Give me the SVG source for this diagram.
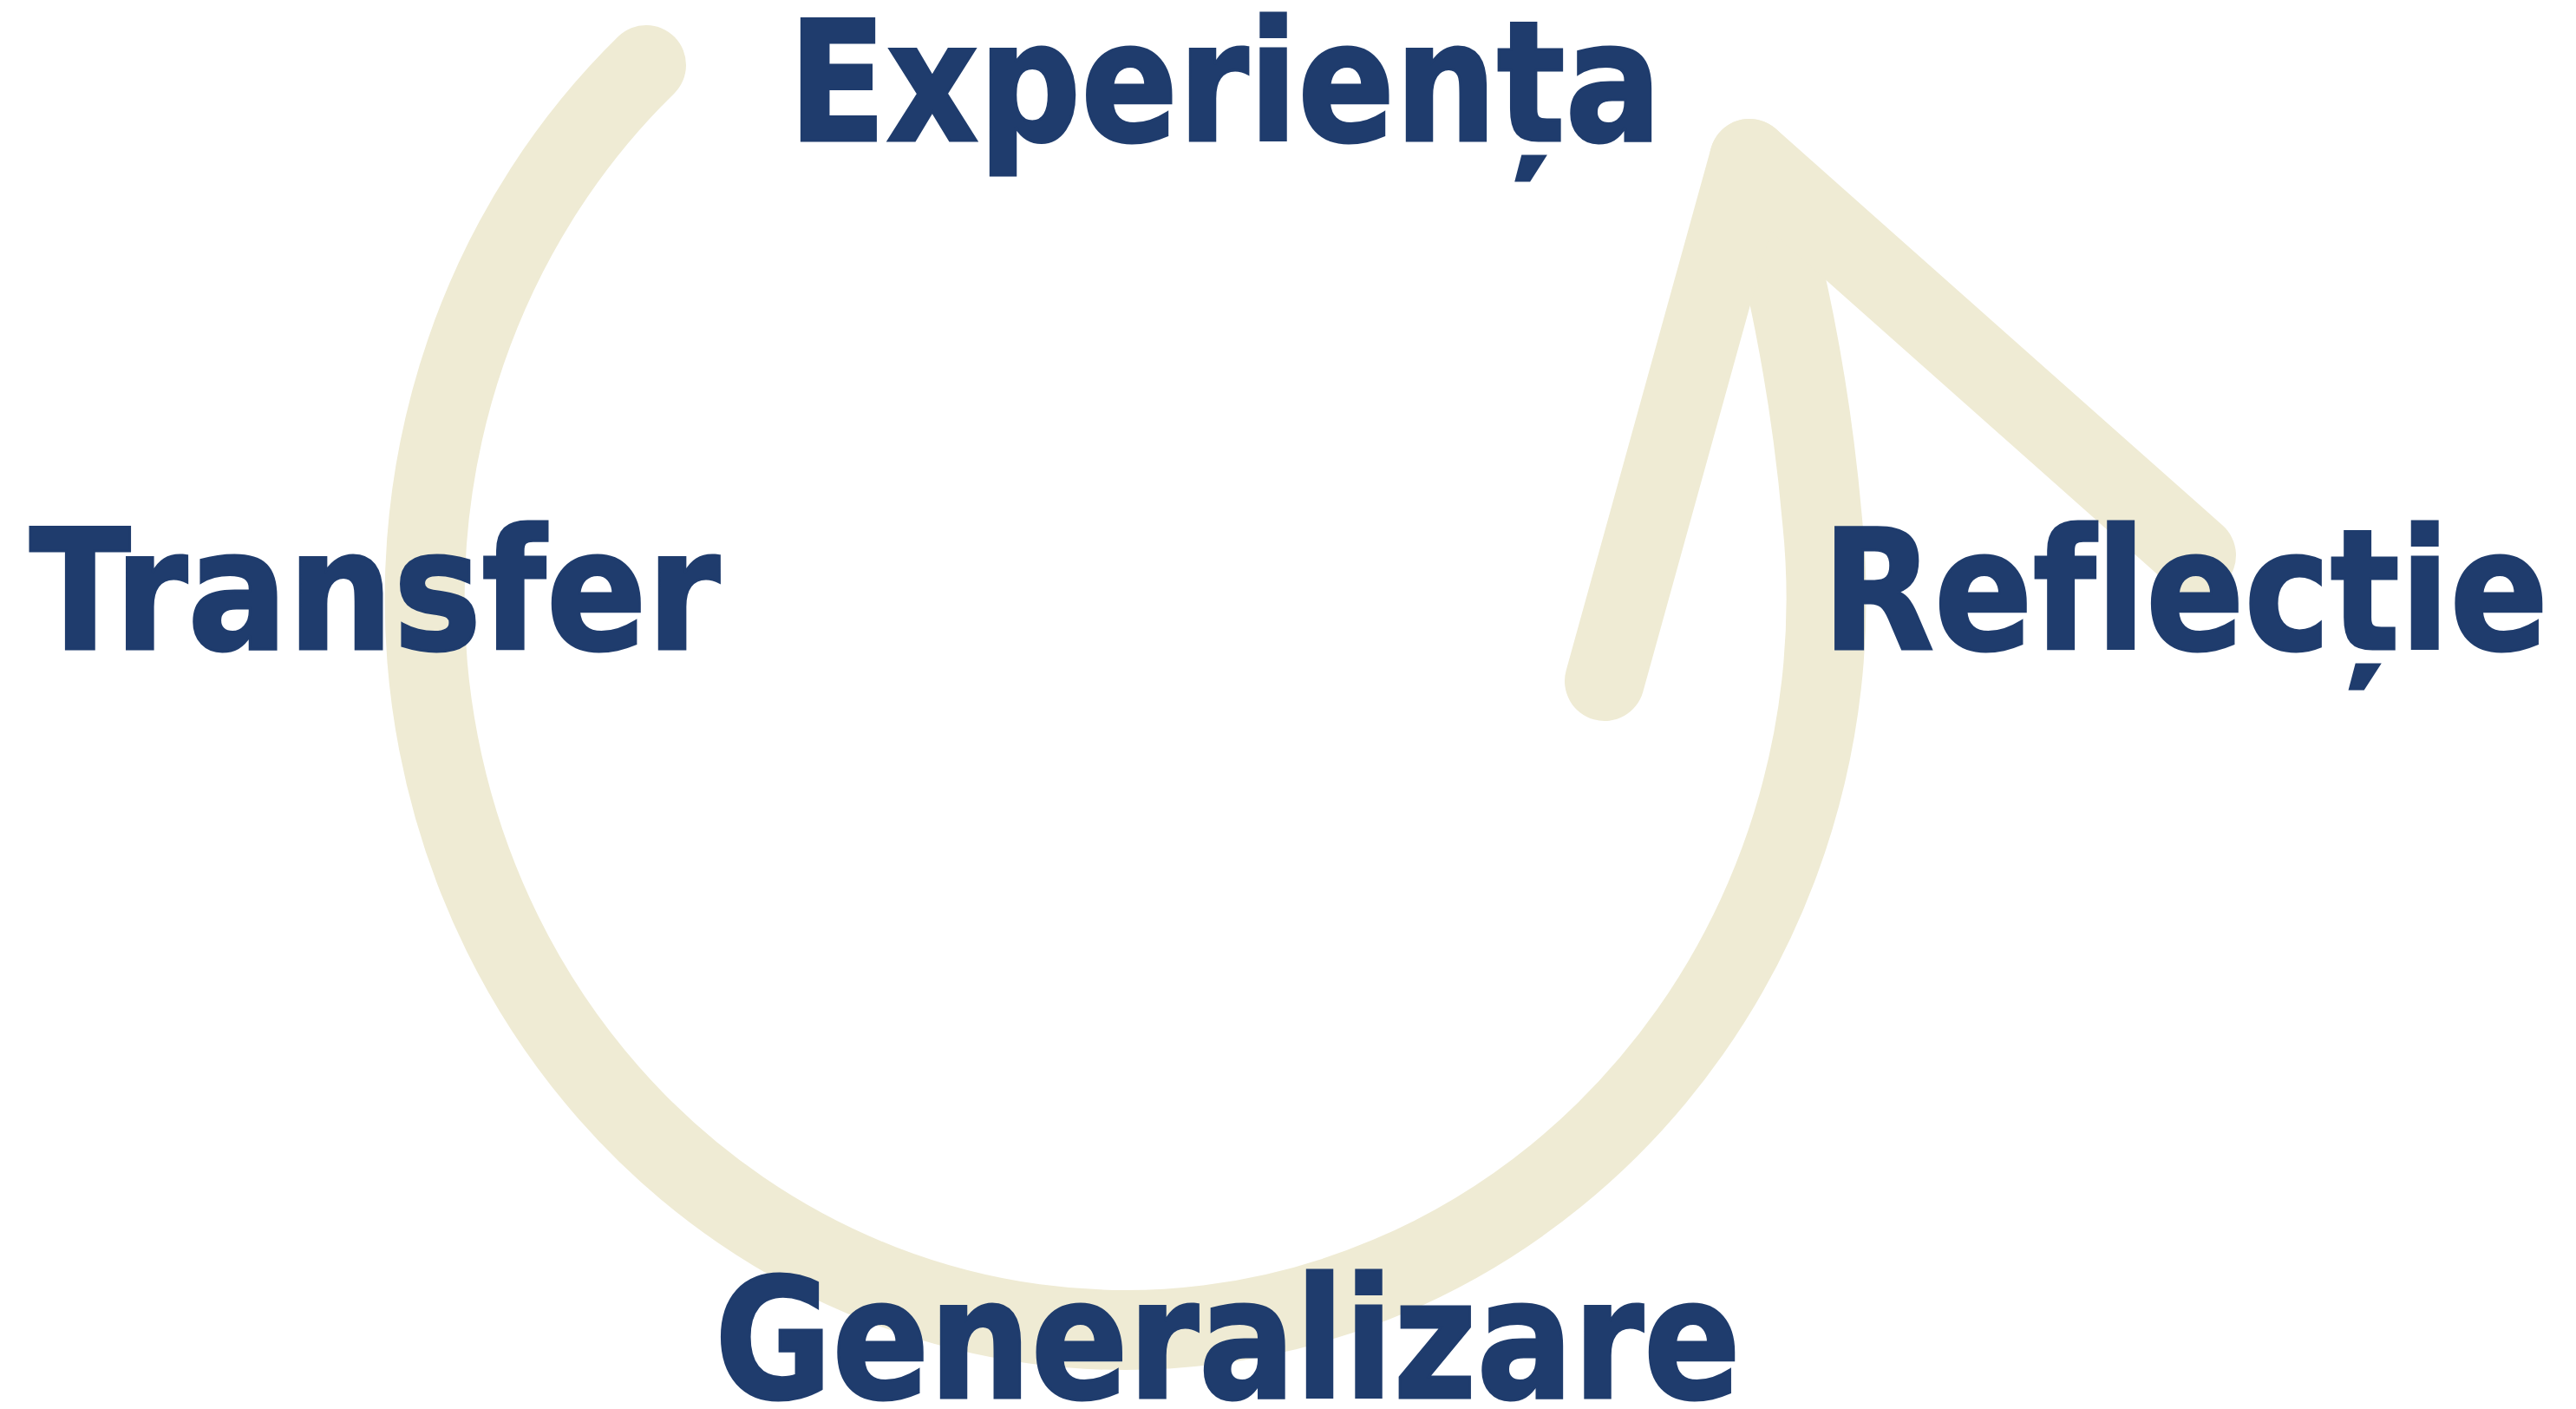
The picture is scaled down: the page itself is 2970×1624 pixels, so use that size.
<svg xmlns="http://www.w3.org/2000/svg" width="2970" height="1624" viewBox="0 0 2970 1624">
  <style>
    .band { fill: none; stroke: #EFEBD4; stroke-width: 92; stroke-linecap: round; stroke-linejoin: round; }
    .lbl { font-family: "DejaVu Sans", "Liberation Sans", sans-serif; font-weight: bold; font-size: 192px; fill: #1F3C6D; stroke: #1F3C6D; stroke-width: 3; stroke-linejoin: miter; stroke-miterlimit: 3; font-variant-ligatures: none; font-feature-settings: "liga" 0, "clig" 0; }
  </style>
  <rect width="2970" height="1624" fill="#FFFFFF"/>
  <g id="connectors">
    <path class="band" d="M745,75 A808,843 0 1 0 2101,600 C2088,451 2056,280 2017,183"/>
    <path class="band" d="M1850,785 L2017,183 L2532,640"/>
  </g>
  <g id="node-experienta">
    <text class="lbl" x="909" y="162" textLength="1007" lengthAdjust="spacingAndGlyphs">Experiența</text>
  </g>
  <g id="node-reflectie">
    <text class="lbl" x="2101" y="748" textLength="837" lengthAdjust="spacingAndGlyphs">Reflecție</text>
  </g>
  <g id="node-generalizare">
    <text class="lbl" x="824" y="1611" textLength="1183" lengthAdjust="spacingAndGlyphs">Generalizare</text>
  </g>
  <g id="node-transfer">
    <text class="lbl" x="34" y="748" textLength="796" lengthAdjust="spacingAndGlyphs">Transfer</text>
  </g>
</svg>
